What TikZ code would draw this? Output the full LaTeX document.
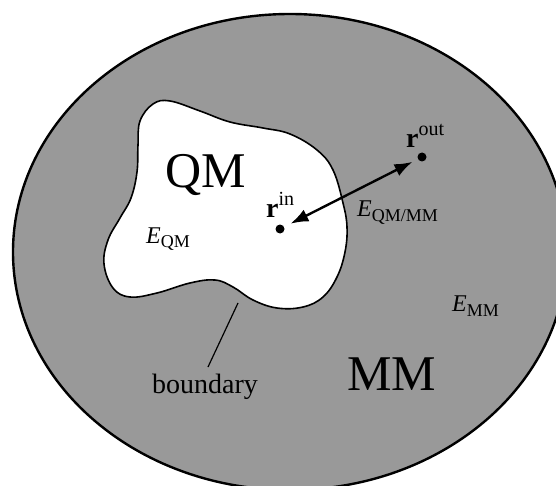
\documentclass[tikz,border=0pt]{standalone}
\usepackage{fontspec}
\setmainfont{Liberation Serif}
\usetikzlibrary{arrows.meta}

\tikzset{
  big/.style={font=\fontsize{50}{50}\selectfont,inner sep=0pt,anchor=base},
  lbl/.style={font=\fontsize{24}{24}\selectfont,inner sep=0pt,anchor=base west},
  pt/.style={circle,fill=black,inner sep=0pt,minimum size=9pt},
}
\newcommand{\en}[1]{\textit{E}\raisebox{-5pt}{\fontsize{18}{18}\selectfont #1}}
\newcommand{\rv}[1]{{\fontsize{28}{28}\selectfont\textbf{r}}\raisebox{12pt}{\fontsize{20}{20}\selectfont #1}}

\begin{document}
\begin{tikzpicture}[x=1pt,y=-1pt,>=Latex]
\useasboundingbox (0,0) rectangle (556,486);
% MM region
\begin{scope}
\clip (0,0) rectangle (556,486);
\draw[line width=2.4pt,fill=black!40] (290,252) ellipse [x radius=277,y radius=238];
\end{scope}
% QM region
\draw[line width=1.6pt,fill=white] plot[smooth cycle,tension=0.65] coordinates {
  (140,121) (153,104) (170,101) (200,111) (230,122) (263,128) (290,134)
  (317,150) (333,170) (343,203) (347,227) (345,252) (337,277) (323,297)
  (303,307) (277,308) (253,300) (233,287) (215,280) (190,283) (157,293)
  (130,297) (113,288) (104,264) (108,240) (120,218) (131,198) (137,172) (138,145)};
\node[big] (qm) at (206,188) {QM};
\node[big] (mm) at (392,390) {MM};
\node[lbl] (eqm) at (146,243) {\en{QM}};
\node[lbl] (eqmmm) at (357,217) {\en{QM/MM}};
\node[lbl] (emm) at (452,311) {\en{MM}};
% positions
\node[pt] (rin) at (280,229) {};
\node[pt] (rout) at (422,157) {};
\node[lbl] (rinl) at (266,218) {\rv{in}};
\node[lbl] (routl) at (406,148) {\rv{out}};
\draw[{Latex[length=18pt,width=13pt]}-{Latex[length=18pt,width=13pt]},line width=2.4pt,shorten <=7pt,shorten >=6pt] (rin) -- (rout);
% boundary
\coordinate (bd) at (238,303);
\coordinate (bt) at (208,367);
\draw[line width=1.2pt] (bd) -- (bt);
\node[font=\fontsize{28}{28}\selectfont,inner sep=0pt,anchor=base] (bnd) at (205,393) {boundary};
\end{tikzpicture}
\end{document}
